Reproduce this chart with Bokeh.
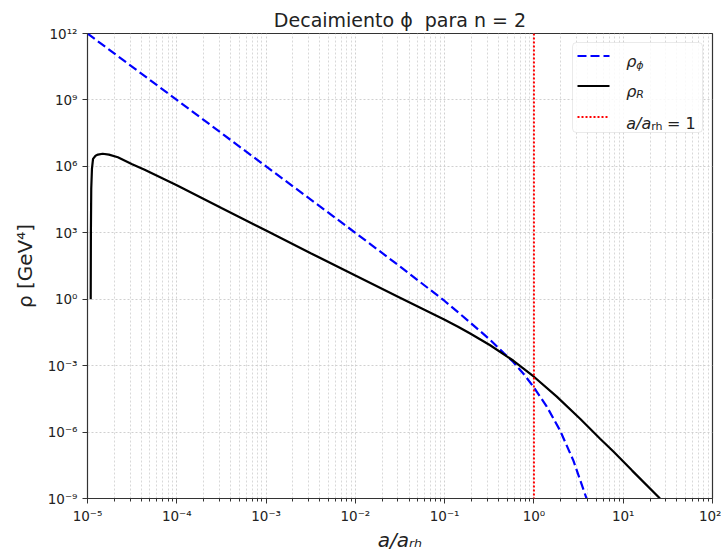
import numpy as np
from bokeh.plotting import figure
from bokeh.models import (Range1d, FixedTicker, CustomJSTickFormatter, Span, Label,
                          BoxAnnotation, Arrow)
from bokeh.embed import file_html
from bokeh.resources import INLINE

# ---- data (log10 values) ----
log_a_phi = [-5.0, -4.0, -3.0, -2.0, -1.5, -1.0, -0.7, -0.5, -0.341, -0.229, -0.1,
             0.002, 0.144, 0.293, 0.442, 0.584, 0.65]
log_rho_phi = [12.0, 9.0, 6.0, 3.0, 1.48, -0.08, -1.10, -1.80, -2.42, -2.85, -3.45,
               -4.00, -4.85, -5.93, -7.29, -8.94, -9.8]

log_a_R = [-4.964, -4.962, -4.958, -4.950, -4.938, -4.910, -4.883, -4.830, -4.760,
           -4.660, -4.500, -4.360, -4.000, -3.500, -3.000, -2.500, -2.000, -1.500,
           -1.000, -0.850, -0.714, -0.490, -0.229, 0.000, 0.256, 0.517, 0.741, 0.890,
           1.100, 1.412]
log_rho_R = [0.0, 3.0, 5.0, 5.9, 6.34, 6.48, 6.53, 6.57, 6.53,
             6.41, 6.10, 5.85, 5.15, 4.12, 3.10, 2.08, 1.07, 0.07,
             -0.93, -1.24, -1.55, -2.08, -2.78, -3.50, -4.40, -5.40, -6.30, -6.88,
             -7.74, -9.00]

a_rh = 1.0
x_major = [1e-5, 1e-4, 1e-3, 1e-2, 1e-1, 1e0, 1e1, 1e2]
x_minor = [k * 10.0 ** d for d in range(-5, 2) for k in range(2, 10)]
y_major = [1e-9, 1e-6, 1e-3, 1e0, 1e3, 1e6, 1e9, 1e12]

a_phi = 10.0 ** np.array(log_a_phi)
rho_phi = 10.0 ** np.array(log_rho_phi)
a_R = 10.0 ** np.array(log_a_R)
rho_R = 10.0 ** np.array(log_rho_R)

FONT = "DejaVu Sans"
TXT = "#222222"

p = figure(width=721, height=554, x_axis_type="log", y_axis_type="log",
           x_range=Range1d(1e-5, 1e2), y_range=Range1d(1e-9, 1e12),
           output_backend="svg", toolbar_location=None,
           min_border_left=87, min_border_right=9, min_border_top=33, min_border_bottom=56)
p.background_fill_color = "white"
p.border_fill_color = "white"
p.outline_line_color = "#333333"
p.outline_line_width = 1.2

p.title.text = "Decaimiento \u03d5\u00a0 para n = 2"
p.title.align = "center"
p.title.text_font = FONT
p.title.text_font_size = "19px"
p.title.text_font_style = "normal"
p.title.text_color = TXT
p.title.standoff = 6

fmt = CustomJSTickFormatter(code="""
const e = Math.round(Math.log10(tick));
const sup = {'-':'\u207b','0':'\u2070','1':'\u00b9','2':'\u00b2','3':'\u00b3','4':'\u2074','5':'\u2075','6':'\u2076','7':'\u2077','8':'\u2078','9':'\u2079'};
return '10' + String(e).split('').map(c => sup[c]).join('');
""")

xa = p.xaxis[0]
ya = p.yaxis[0]
xa.ticker = FixedTicker(ticks=x_major, minor_ticks=x_minor)
ya.ticker = FixedTicker(ticks=y_major, minor_ticks=[])
for ax in (xa, ya):
    ax.formatter = fmt
    ax.major_tick_out = 5
    ax.major_tick_in = 0
    ax.minor_tick_out = 3
    ax.minor_tick_in = 0
    ax.axis_line_color = "#333333"
    ax.major_tick_line_color = "#333333"
    ax.minor_tick_line_color = "#333333"
    ax.major_label_text_font = FONT
    ax.major_label_text_font_size = "13.5px"
    ax.major_label_text_color = TXT
    ax.major_label_standoff = 5
    ax.axis_label_text_font = FONT
    ax.axis_label_text_font_size = "20px"
    ax.axis_label_text_color = TXT
ya.minor_tick_line_color = None
xa.major_label_standoff = 4

xa.axis_label = "a/a\u1d63\u2095"
xa.axis_label_text_font_style = "italic"
xa.axis_label_standoff = 1
ya.axis_label = "\u03c1 [GeV\u2074]"
ya.axis_label_text_font_style = "normal"
ya.axis_label_standoff = 8

for g in (p.xgrid[0], p.ygrid[0]):
    g.grid_line_color = "#d0d0d0"
    g.grid_line_dash = "2 2"
    g.grid_line_width = 1
p.xgrid[0].minor_grid_line_color = "#d8d8d8"
p.xgrid[0].minor_grid_line_dash = "2 2"
p.xgrid[0].minor_grid_line_width = 1

p.line(a_phi, rho_phi, line_color="#0000ff", line_width=2.2, line_dash="9 4")
p.line(a_R, rho_R, line_color="black", line_width=2.2)
p.add_layout(Span(location=a_rh, dimension="height", line_color="red",
                  line_width=2, line_dash="2 2"))


def lab(text, x, y, size, italic=False, angle=0.0, align="left"):
    p.add_layout(Label(x=x, y=y, x_units="screen", y_units="screen", text=text,
                       text_font=FONT, text_font_size=f"{size}px",
                       text_font_style="italic" if italic else "normal",
                       text_baseline="alphabetic", text_align=align, angle=angle,
                       text_color=TXT))


# legend
p.add_layout(BoxAnnotation(left=485, right=615, top=456, bottom=366,
                           left_units="screen", right_units="screen",
                           top_units="screen", bottom_units="screen",
                           fill_color="white", fill_alpha=0.85,
                           line_color="#b8b8b8", line_width=1, border_radius=4))
p.add_layout(Arrow(x_start=490, y_start=442.5, x_end=522, y_end=442.5,
                   start_units="screen", end_units="screen", start=None, end=None,
                   line_color="#0000ff", line_width=2.2, line_dash="9 4"))
p.add_layout(Arrow(x_start=490, y_start=412.5, x_end=522, y_end=412.5,
                   start_units="screen", end_units="screen", start=None, end=None,
                   line_color="black", line_width=2.2))
p.add_layout(Arrow(x_start=490, y_start=381.5, x_end=522, y_end=381.5,
                   start_units="screen", end_units="screen", start=None, end=None,
                   line_color="red", line_width=2, line_dash="2 2"))

lab("\u03c1", 538.7, 437, 16, italic=True)
lab("\u03d5", 548.8, 433.5, 11, italic=True)
lab("\u03c1", 538.7, 407.5, 16, italic=True)
lab("R", 548.8, 404, 11, italic=True)
lab("a/a", 538.7, 375.5, 16, italic=True)
lab("rh", 563.7, 372, 11)
lab("= 1", 579.5, 375.5, 16)

open("out.html", "w").write(file_html(p, INLINE))
